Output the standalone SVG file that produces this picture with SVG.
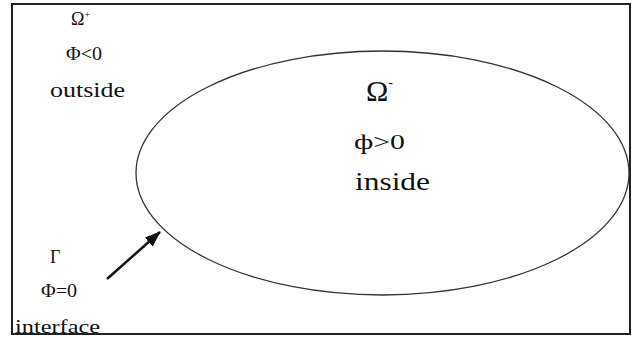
<svg xmlns="http://www.w3.org/2000/svg" width="634" height="338" viewBox="0 0 634 338">
<defs>
<style>
text{font-family:"Liberation Serif","Times New Roman",serif;fill:#111}
.s{font-size:18px}
</style>
<marker id="ah" markerWidth="16" markerHeight="12" refX="15" refY="6" orient="auto" markerUnits="userSpaceOnUse"><path d="M0,0 L16,6 L0,12 Z" fill="#111"/></marker>
</defs>
<rect x="0" y="0" width="634" height="338" fill="#fff"/>
<rect x="12" y="4" width="618" height="330" fill="none" stroke="#222" stroke-width="2"/>
<g id="ellipse"><ellipse cx="382.5" cy="173" rx="246.5" ry="122" fill="none" stroke="#333" stroke-width="1.3"/></g>
<g id="outside">
<text class="s" x="71" y="25">Ω<tspan font-size="10" dy="-7">+</tspan></text>
<text class="s" x="66" y="60" textLength="36" lengthAdjust="spacingAndGlyphs">Φ&lt;0</text>
<text x="50" y="97" font-size="22" textLength="75" lengthAdjust="spacingAndGlyphs">outside</text>
</g>
<g id="inside">
<text x="366" y="101" font-size="30">Ω<tspan font-size="14" dy="-14">-</tspan></text>
<text x="354" y="149" font-size="22" textLength="51" lengthAdjust="spacingAndGlyphs">ф&gt;0</text>
<text x="355" y="190" font-size="25" textLength="75" lengthAdjust="spacingAndGlyphs">inside</text>
</g>
<g id="interface">
<text class="s" x="50" y="263">Γ</text>
<text class="s" x="41" y="297" textLength="36" lengthAdjust="spacingAndGlyphs">Φ=0</text>
<text x="15" y="333" font-size="19" textLength="85" lengthAdjust="spacingAndGlyphs">interface</text>
</g>
<g id="connectors"><line x1="107" y1="279" x2="160" y2="232" stroke="#111" stroke-width="2.5" marker-end="url(#ah)"/></g>
</svg>
